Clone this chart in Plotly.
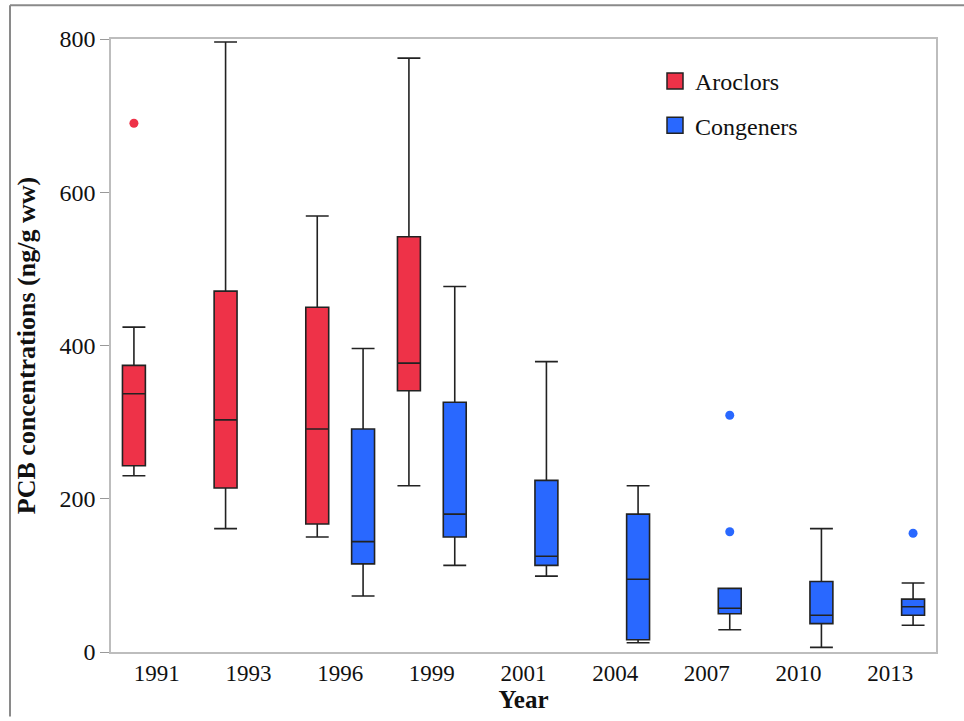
import plotly.graph_objects as go

# ---- data ----
years = ["1991", "1993", "1996", "1999", "2001", "2004", "2007", "2010", "2013"]

aro_years = ["1991", "1993", "1996", "1999"]
aro_low = [230, 161, 150, 217]
aro_q1 = [243, 214, 167, 341]
aro_med = [337, 303, 291, 377]
aro_q3 = [374, 471, 450, 542]
aro_high = [424, 796, 569, 775]
aro_out_years = ["1991"]
aro_out_vals = [690]

con_years = ["1996", "1999", "2001", "2004", "2007", "2010", "2013"]
con_low = [73, 113, 99, 12, 29, 6, 35]
con_q1 = [115, 150, 113, 16, 50, 37, 48]
con_med = [144, 180, 125, 95, 57, 48, 59]
con_q3 = [291, 326, 224, 180, 83, 92, 69]
con_high = [396, 477, 379, 217, 83, 161, 90]
con_out_years = ["2007", "2007", "2013"]
con_out_vals = [309, 157, 155]

RED = "#EE3248"
BLUE = "#2968FF"
EDGE = "#222222"
FONT = "Liberation Serif"

idx = {y: i for i, y in enumerate(years)}
OFF = 0.25  # group offset (Aroclors left slot, Congeners right slot)


def pos(ylist, off):
    return [idx[y] + off for y in ylist]


fig = go.Figure()

fig.add_trace(go.Box(
    x=pos(aro_years, -OFF), q1=aro_q1, median=aro_med, q3=aro_q3,
    lowerfence=aro_low, upperfence=aro_high,
    width=0.25, whiskerwidth=1, boxpoints=False,
    fillcolor=RED, line=dict(color=EDGE, width=1.6),
    name="Aroclors", showlegend=False, hoverinfo="y"))

fig.add_trace(go.Box(
    x=pos(con_years, OFF), q1=con_q1, median=con_med, q3=con_q3,
    lowerfence=con_low, upperfence=con_high,
    width=0.25, whiskerwidth=1, boxpoints=False,
    fillcolor=BLUE, line=dict(color=EDGE, width=1.6),
    name="Congeners", showlegend=False, hoverinfo="y"))

fig.add_trace(go.Scatter(
    x=pos(aro_out_years, -OFF), y=aro_out_vals, mode="markers",
    marker=dict(color=RED, size=9), showlegend=False, hoverinfo="y"))
fig.add_trace(go.Scatter(
    x=pos(con_out_years, OFF), y=con_out_vals, mode="markers",
    marker=dict(color=BLUE, size=9), showlegend=False, hoverinfo="y"))

# legend entries
fig.add_trace(go.Scatter(
    x=[None], y=[None], mode="markers", name="Aroclors", legendgroup="a",
    marker=dict(symbol="square", size=16, color=RED, line=dict(color=EDGE, width=1.5))))
fig.add_trace(go.Scatter(
    x=[None], y=[None], mode="markers", name="Congeners", legendgroup="c",
    marker=dict(symbol="square", size=16, color=BLUE, line=dict(color=EDGE, width=1.5))))

L, R, T, B = 111, 28, 39, 65
W, H = 964, 721
pw, ph = W - L - R, H - T - B

fig.update_layout(
    width=W, height=H,
    margin=dict(l=L, r=R, t=T, b=B),
    paper_bgcolor="white", plot_bgcolor="white",
    font=dict(family=FONT, size=23, color="#111111"),
    showlegend=True,
    legend=dict(x=(655 - L) / pw, y=1 - (59 - T) / ph, xanchor="left", yanchor="top",
                bgcolor="rgba(0,0,0,0)", font=dict(family=FONT, size=24),
                tracegroupgap=10, itemsizing="trace"),
    xaxis=dict(
        range=[-0.5, len(years) - 0.5],
        tickmode="array", tickvals=list(range(len(years))), ticktext=years,
        showgrid=False, zeroline=False, ticks="",
        showline=True, mirror=True, linecolor="#BDBDBD", linewidth=1.5,
        tickfont=dict(family=FONT, size=23),
        title=dict(text="<b>Year</b>", font=dict(family=FONT, size=25), standoff=5),
    ),
    yaxis=dict(
        range=[0, 800], tickmode="array", tickvals=[0, 200, 400, 600, 800],
        showgrid=False, zeroline=False, ticks="outside", ticklen=9, tickcolor="#999999",
        showline=True, mirror=True, linecolor="#BDBDBD", linewidth=1.5,
        tickfont=dict(family=FONT, size=24),
        title=dict(text="<b>PCB concentrations (ng/g ww)</b>", font=dict(family=FONT, size=26),
                   standoff=16),
    ),
    shapes=[
        dict(type="line", xref="paper", yref="paper",
             x0=(10 - L) / pw, x1=(10 - L) / pw, y0=1 + (T - 5) / ph, y1=-B / ph,
             line=dict(color="#8A8A8A", width=2)),
        dict(type="line", xref="paper", yref="paper",
             x0=(10 - L) / pw, x1=(W - L) / pw, y0=1 + (T - 5) / ph, y1=1 + (T - 5) / ph,
             line=dict(color="#8A8A8A", width=2)),
    ],
)

fig.write_html("out.html")
